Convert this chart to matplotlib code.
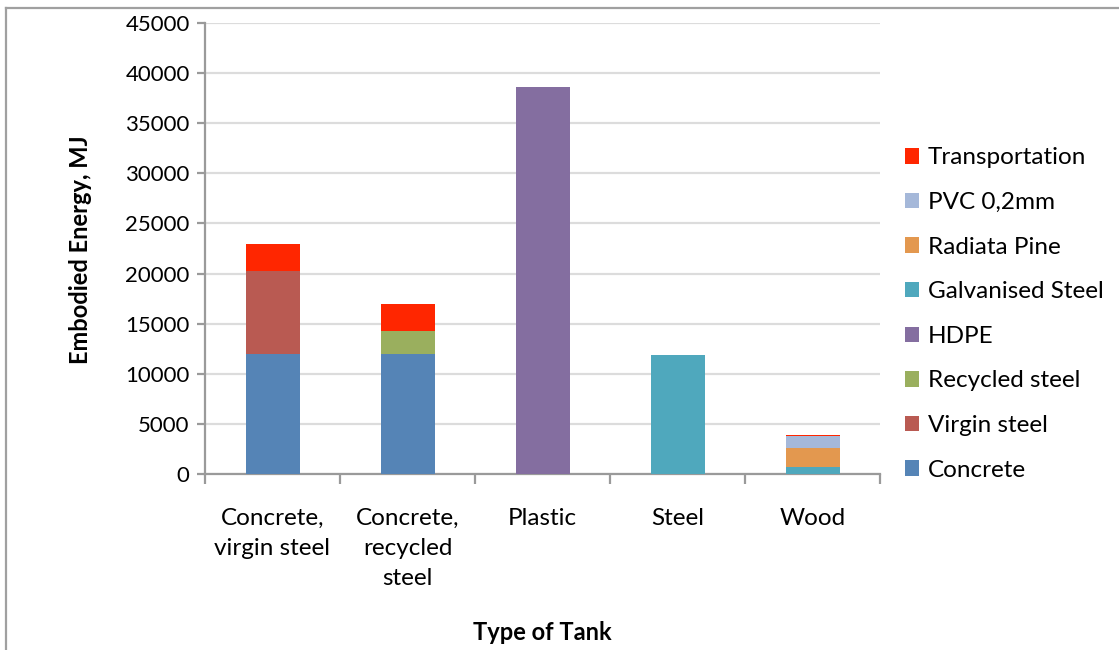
import matplotlib
matplotlib.use("Agg")
import matplotlib.pyplot as plt
import numpy as np
from matplotlib.lines import Line2D

plt.rcParams['font.family'] = ['Lato', 'DejaVu Sans']

categories = ["Concrete,\nvirgin steel", "Concrete,\nrecycled\nsteel", "Plastic", "Steel", "Wood"]

concrete = [12000, 12000, 0, 0, 0]
virgin_steel = [8260, 0, 0, 0, 0]
recycled_steel = [0, 2280, 0, 0, 0]
hdpe = [0, 0, 38600, 0, 0]
galvanised_steel = [0, 0, 0, 11830, 700]
radiata_pine = [0, 0, 0, 0, 1925]
pvc = [0, 0, 0, 0, 1195]
transportation = [2660, 2660, 0, 50, 50]

series = [
    ("Concrete", concrete, "#5584b6"),
    ("Virgin steel", virgin_steel, "#b95a52"),
    ("Recycled steel", recycled_steel, "#9aaf5e"),
    ("HDPE", hdpe, "#846ea0"),
    ("Galvanised Steel", galvanised_steel, "#4fa8bd"),
    ("Radiata Pine", radiata_pine, "#e3984f"),
    ("PVC 0,2mm", pvc, "#a5b8d9"),
    ("Transportation", transportation, "#ff2600"),
]

fig = plt.figure(figsize=(11.19, 6.5), dpi=100)
ax = fig.add_axes([205 / 1119, (650 - 474) / 650, 675 / 1119, 451 / 650])

x = np.arange(len(categories))
bottom = np.zeros(len(categories))
handles = []
for name, vals, color in series:
    vals = np.array(vals, dtype=float)
    b = ax.bar(x, vals, width=0.4, bottom=bottom, color=color,
               edgecolor="none", label=name, zorder=3)
    bottom += vals
    handles.append(b)

ax.set_xlim(-0.5, len(categories) - 0.5)
ax.set_ylim(0, 45000)
ax.set_yticks(np.arange(0, 45001, 5000))
ax.yaxis.grid(True, color="#dcdcdc", linewidth=1.6, zorder=0)
ax.set_axisbelow(True)

# category boundaries carry the tick marks, centres carry the labels
ax.set_xticks(np.arange(-0.5, len(categories), 1.0))
ax.set_xticklabels([])
ax.set_xticks(x, minor=True)
ax.set_xticklabels(categories, minor=True, fontsize=17.5, linespacing=1.52,
                   ha="center", va="top")
ax.tick_params(axis="x", which="major", length=7, width=1.6, color="#9a9a9a", direction="out")
ax.tick_params(axis="x", which="minor", length=0, pad=24.5)
ax.tick_params(axis="y", length=6, width=1.6, color="#9a9a9a", direction="out",
               labelsize=16, pad=5)

for side in ["top", "right"]:
    ax.spines[side].set_visible(False)
for side in ["left", "bottom"]:
    ax.spines[side].set_color("#9a9a9a")
    ax.spines[side].set_linewidth(1.6)

fig.text(80 / 1119, 1 - 250 / 650, "Embodied Energy, MJ", fontsize=17, fontweight="bold",
         rotation=90, ha="center", va="center")
fig.text(542 / 1119, 1 - 633 / 650, "Type of Tank", fontsize=17, fontweight="bold",
         ha="center", va="center")

leg = fig.legend(handles[::-1], [s[0] for s in series][::-1],
                 loc="center left", bbox_to_anchor=(895 / 1119, 1 - 314 / 650),
                 frameon=False, fontsize=17.5, handlelength=0.6, handleheight=0.6,
                 handletextpad=0.35, labelspacing=0.97, borderaxespad=0)

# outer frame lines on the left and top of the chart area
fig.add_artist(Line2D([5.5 / 1119, 5.5 / 1119], [0, 1 - 7.5 / 650],
                      transform=fig.transFigure, color="#a0a0a0", linewidth=1.6))
fig.add_artist(Line2D([5.5 / 1119, 1], [1 - 7.5 / 650, 1 - 7.5 / 650],
                      transform=fig.transFigure, color="#a0a0a0", linewidth=1.6))

fig.savefig("out.png", dpi=100, facecolor="white")
